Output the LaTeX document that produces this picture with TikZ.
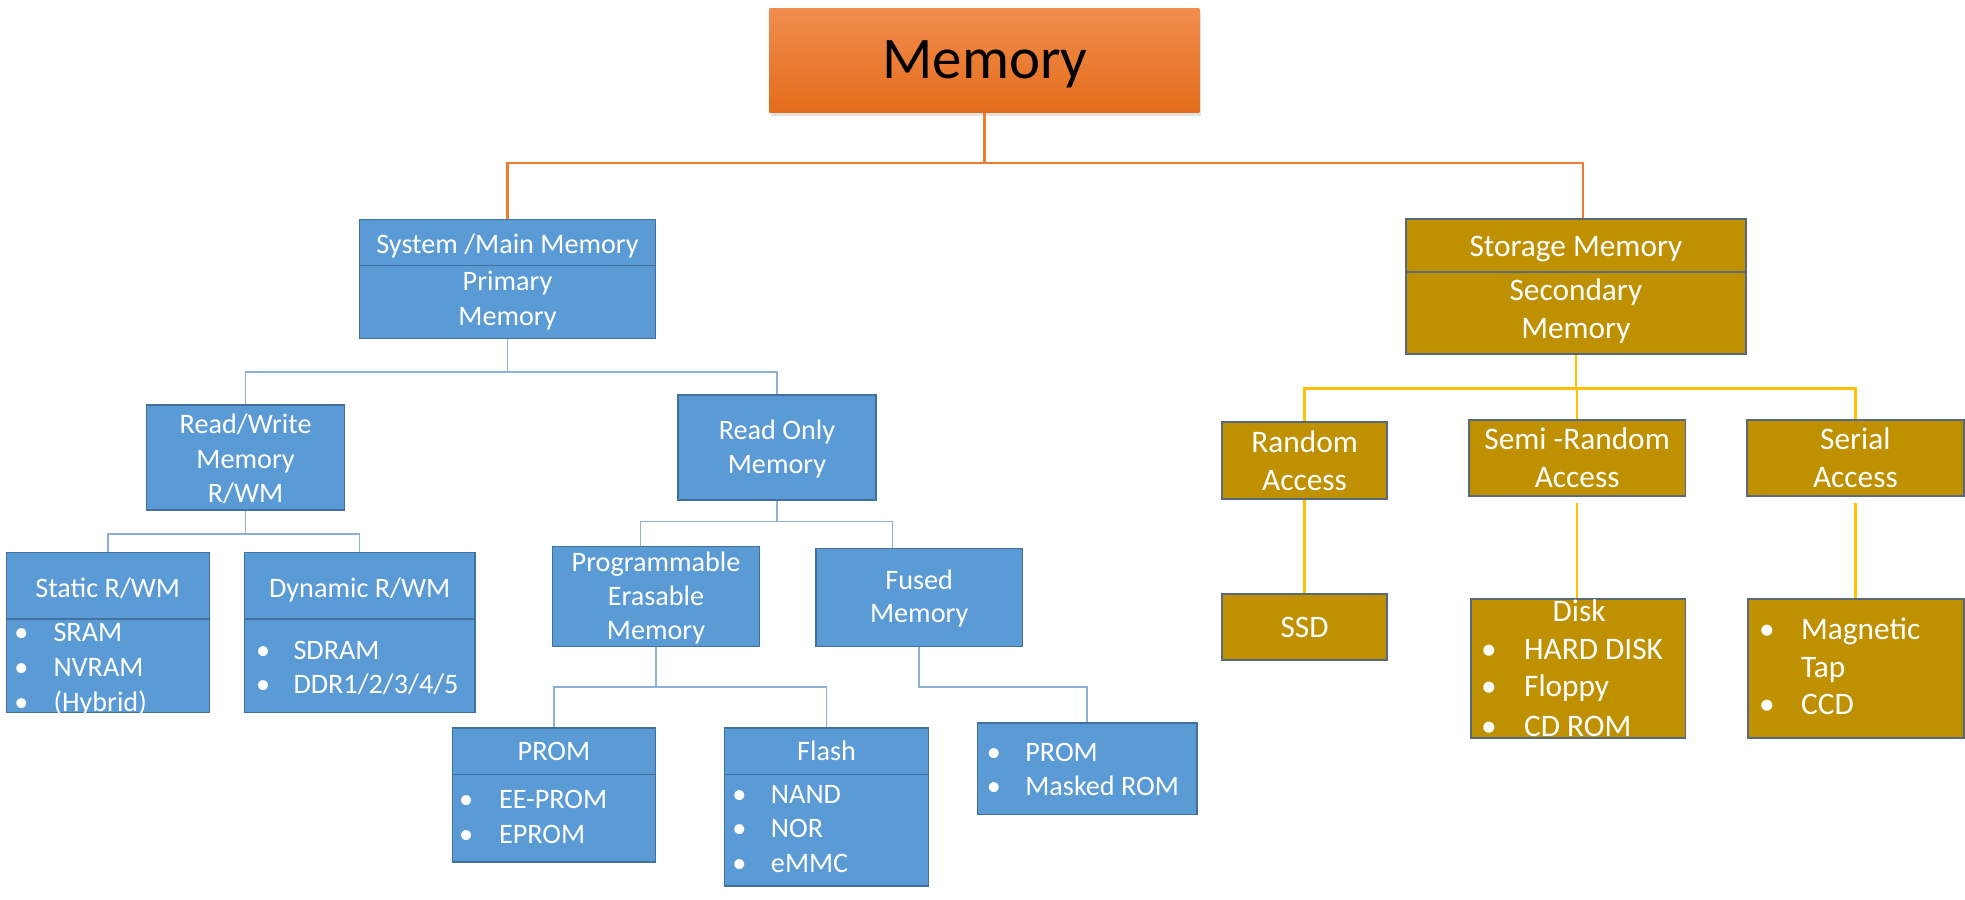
\documentclass[tikz,border=0pt]{standalone}
\usepackage{fontspec}
\setmainfont{Carlito}
\usetikzlibrary{fit,shadows}
\definecolor{bfill}{HTML}{5B9BD5}
\definecolor{bline}{HTML}{41719C}
\definecolor{gfill}{HTML}{BF9000}
\definecolor{gline}{HTML}{56687A}
\definecolor{oline}{HTML}{ED7D31}
\definecolor{cline}{HTML}{8DB0D6}
\definecolor{yline}{HTML}{FFC000}
\definecolor{otop}{HTML}{F18D4F}
\definecolor{obot}{HTML}{E46C1A}
\newcommand\mkbox[6]{\node[#1, fit={(#3,#4) (#5,#6)}] (#2) {};}
\newcommand\mtxt[5]{\node[#1,anchor=base] (#2) at (#3,#4) {#5};}
\newcommand\mbul[6]{\node[#1,anchor=base] (#2b) at (#3,#5) {\textbullet}; \node[#1,anchor=base west] (#2) at (#4,#5) {#6};}
\begin{document}
\begin{tikzpicture}[x=1pt,y=-1pt,
  bluebox/.style={draw=bline, fill=bfill, line width=1.2pt, inner sep=0pt},
  goldbox/.style={draw=gline, fill=gfill, line width=1.4pt, inner sep=0pt},
  titlebox/.style={inner sep=0pt, top color=otop, bottom color=obot, draw=none,
    drop shadow={shadow xshift=1.5pt, shadow yshift=-2.5pt, opacity=0.18, fill=black!60}},
  lt/.style={text=white, font=\fontsize{22.5}{27.5}\selectfont, inner sep=0pt},
  rt/.style={text=white, font=\fontsize{25}{30}\selectfont, inner sep=0pt},
  divb/.style={draw=bline, line width=1.2pt},
  divg/.style={draw=gline, line width=1.4pt},
  oconn/.style={draw=oline, line width=2pt},
  bconn/.style={draw=cline, line width=1.2pt},
  yconn/.style={draw=yline, line width=2pt}]
\useasboundingbox[fill=white] (0,0) rectangle (1568,717.4);

% title
\mkbox{titlebox}{mem}{614}{7}{957}{90}
\node[anchor=base, font=\fontsize{47}{56}\selectfont, text=black, inner sep=0pt] (memt) at (786,63) {Memory};

% left branch boxes
\mkbox{bluebox}{sys}{287}{175}{523}{270}
\draw[divb] (287,212) -- (523,212);
\mtxt{lt}{sys1}{405}{202}{System /Main Memory}
\mtxt{lt}{sys2}{405}{232}{Primary}
\mtxt{lt}{sys3}{405}{259.5}{Memory}

\mkbox{bluebox}{rw}{117}{323}{275}{407}
\mtxt{lt}{rw1}{196}{346}{Read/Write}
\mtxt{lt}{rw2}{196}{374}{Memory}
\mtxt{lt}{rw3}{196}{401}{R/WM}

\mkbox{bluebox}{rom}{541}{315}{699}{399}
\mtxt{lt}{rom1}{620}{351}{Read Only}
\mtxt{lt}{rom2}{620}{378}{Memory}

\mkbox{bluebox}{st}{5}{441}{167}{568.5}
\draw[divb] (5,494) -- (167,494);
\mtxt{lt}{st0}{86}{477}{Static R/WM}
\begin{scope}
\clip (5,494) rectangle (167,568.5);
\mbul{lt}{st1}{17}{42.5}{512}{SRAM}
\mbul{lt}{st2}{17}{42.5}{540}{NVRAM}
\mbul{lt}{st3}{17}{42.5}{567.5}{(Hybrid)}
\end{scope}

\mkbox{bluebox}{dy}{195}{441}{379}{568.5}
\draw[divb] (195,494) -- (379,494);
\mtxt{lt}{dy0}{287}{477}{Dynamic R/WM}
\mbul{lt}{dy1}{210}{234}{526.5}{SDRAM}
\mbul{lt}{dy2}{210}{234}{553}{DDR1/2/3/4/5}

\mkbox{bluebox}{pem}{441}{436}{606}{516}
\mtxt{lt}{pem1}{523.5}{456}{Programmable}
\mtxt{lt}{pem2}{523.5}{483}{Erasable}
\mtxt{lt}{pem3}{523.5}{510}{Memory}

\mkbox{bluebox}{fu}{651}{437.5}{816}{516}
\mtxt{lt}{fu1}{733.5}{470}{Fused}
\mtxt{lt}{fu2}{733.5}{497}{Memory}

\mkbox{bluebox}{pr}{361}{581}{523}{688}
\draw[divb] (361,618) -- (523,618);
\mtxt{lt}{pr0}{442}{607}{PROM}
\mbul{lt}{pr1}{372}{398}{645}{EE-PROM}
\mbul{lt}{pr2}{372}{398}{673}{EPROM}

\mkbox{bluebox}{fl}{578}{581}{741}{707}
\draw[divb] (578,618) -- (741,618);
\mtxt{lt}{fl0}{659.5}{607}{Flash}
\mbul{lt}{fl1}{590}{615}{641}{NAND}
\mbul{lt}{fl2}{590}{615}{668}{NOR}
\mbul{lt}{fl3}{590}{615}{696}{eMMC}

\mkbox{bluebox}{fl2}{780}{577}{955}{650}
\mbul{lt}{fx1}{793}{818}{608}{PROM}
\mbul{lt}{fx2}{793}{818}{635}{Masked ROM}

% right branch boxes
\mkbox{goldbox}{sto}{1122}{175}{1393}{282.5}
\draw[divg] (1122,217) -- (1393,217);
\mtxt{rt}{sto1}{1257.5}{205}{Storage Memory}
\mtxt{rt}{sto2}{1257.5}{239.5}{Secondary}
\mtxt{rt}{sto3}{1257.5}{270}{Memory}

\mkbox{goldbox}{ra}{975}{336.5}{1107}{398}
\mtxt{rt}{ra1}{1041}{361}{Random}
\mtxt{rt}{ra2}{1041}{391}{Access}

\mkbox{goldbox}{se}{1172}{335}{1345}{396}
\mtxt{rt}{se1}{1258.5}{359}{Semi -Random}
\mtxt{rt}{se2}{1258.5}{389}{Access}

\mkbox{goldbox}{sr}{1394}{335}{1567}{396}
\mtxt{rt}{sr1}{1480.5}{359}{Serial}
\mtxt{rt}{sr2}{1480.5}{389}{Access}

\mkbox{goldbox}{ssd}{975}{474}{1107}{526.5}
\mtxt{rt}{ssd1}{1041}{509}{SSD}

\mkbox{goldbox}{dk}{1174}{478}{1345}{589}
\mtxt{rt}{dk0}{1260}{496}{Disk}
\begin{scope}
\clip (1174,478) rectangle (1345,589);
\mbul{rt}{dk1}{1188}{1216}{526.5}{HARD DISK}
\mbul{rt}{dk2}{1188}{1216}{556}{Floppy}
\mbul{rt}{dk3}{1188}{1216}{588}{CD ROM}
\end{scope}

\mkbox{goldbox}{mt}{1395}{478}{1567}{589}
\mbul{rt}{mt1}{1410}{1437}{510.5}{Magnetic}
\node[rt,anchor=base west] (mt2) at (1437,541) {Tap};
\mbul{rt}{mt3}{1410}{1437}{570.5}{CCD}

% connectors
\coordinate (jm) at (0,130);
\draw[oconn] (mem.south) -- (mem.south |- jm) -| (sys.north);
\draw[oconn] (mem.south |- jm) -| ([xshift=5.5pt]sto.north);

\coordinate (js) at (0,297);
\draw[bconn] (sys.south) -- (sys.south |- js) -| (rw.north);
\draw[bconn] (sys.south |- js) -| (rom.north);

\coordinate (jr) at (0,426);
\draw[bconn] (rw.south) -- (rw.south |- jr) -| (st.north);
\draw[bconn] (rw.south |- jr) -| (dy.north);

\coordinate (jo) at (0,416);
\draw[bconn] (rom.south) -- (rom.south |- jo) -| ([xshift=-12.5pt]pem.north);
\draw[bconn] (rom.south |- jo) -| ([xshift=-21.5pt]fu.north);

\coordinate (jp) at (0,548);
\draw[bconn] (pem.south) -- (pem.south |- jp) -| (pr.north);
\draw[bconn] (pem.south |- jp) -| (fl.north);
\draw[bconn] (fu.south) -- (fu.south |- jp) -| (fl2.north);

\coordinate (jg) at (0,310);
\draw[yconn] (sto.south) -- (sto.south |- jg) -| (ra.north);
\draw[yconn] (sto.south |- jg) -| (sr.north);
\draw[yconn] (sto.south |- jg) -| (se.north);

\draw[yconn] (ra.south) -- (ssd.north);
\draw[yconn] ([yshift=-5pt]se.south) -- (se.south |- dk.north);
\draw[yconn] ([yshift=-5pt]sr.south) -- (sr.south |- mt.north);
\end{tikzpicture}
\end{document}
